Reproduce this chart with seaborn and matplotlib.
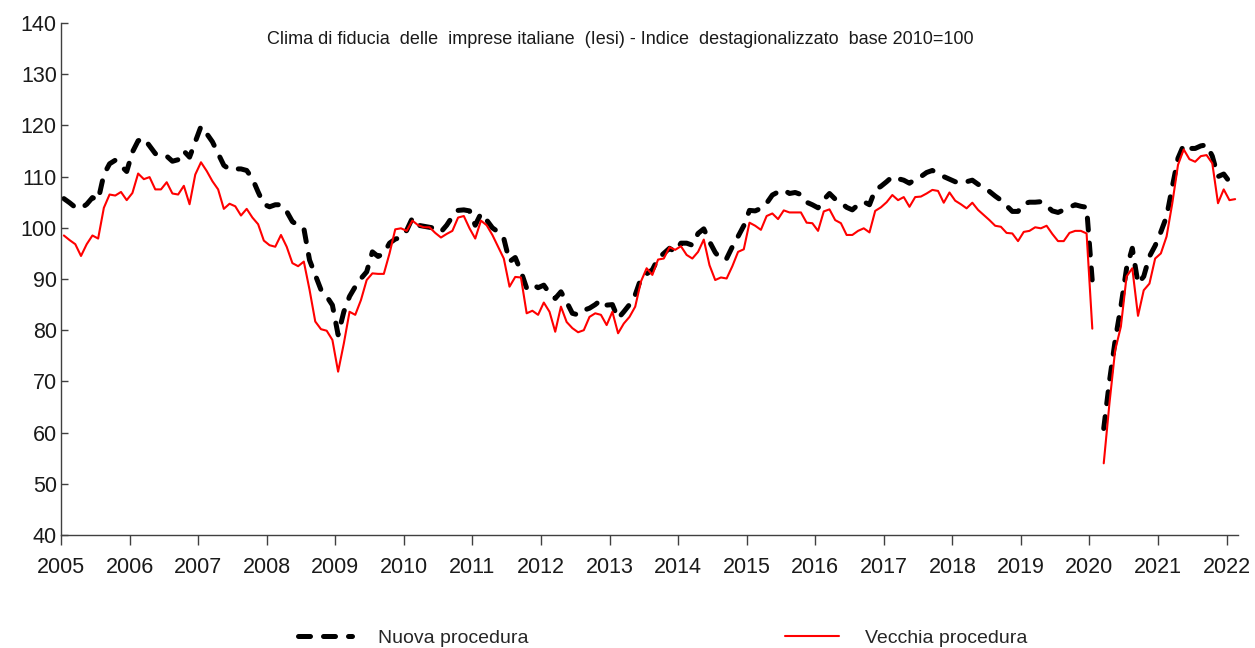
import numpy as np
import pandas as pd
import matplotlib
matplotlib.use("Agg")
import matplotlib.pyplot as plt
from matplotlib.lines import Line2D
import seaborn as sns

# Monthly index, Jan 2005 -> Feb 2022 (one month missing in 2020)
start = "2005-01"
n_months = 206

# Nuova procedura (black dashed)
nuova = [105.7, 104.9, 104.0, 103.8, 104.6, 105.9, 105.4, 110.4, 112.5, 113.2, 112.1, 111.0,
         114.8, 117.0, 117.5, 116.0, 114.5, 114.0, 114.0, 113.0, 113.3, 115.0, 113.8, 116.8,
         119.8, 118.4, 116.8, 114.5, 112.2, 111.4, 111.5, 111.5, 111.2, 109.6, 107.0, 104.6,
         104.1, 104.5, 104.5, 103.2, 101.2, 100.5, 99.9, 93.7, 90.8, 87.9, 86.6, 84.9,
         79.1, 83.6, 86.6, 88.5, 90.1, 91.4, 95.3, 94.4, 95.0, 97.0, 97.8, 98.1,
         99.5, 101.9, 100.5, 100.3, 100.1, 99.9, 99.2, 100.5, 102.2, 103.4, 103.5, 103.3,
         100.5, 102.8, 101.5, 100.0, 99.2, 97.9, 93.4, 94.2, 91.5, 88.2, 89.0, 88.3,
         88.8, 87.2, 86.2, 87.5, 85.5, 83.3, 83.0, 83.9, 84.3, 85.0, 85.9, 84.9,
         85.0, 82.3, 83.6, 85.0, 86.9, 90.1, 91.0, 91.8, 94.0, 95.0, 96.0, 95.3,
         97.0, 97.0, 96.6, 98.9, 99.8, 97.3, 95.2, 93.8, 94.0, 96.3, 98.3, 100.4,
         103.4, 103.3, 103.8, 104.8, 106.4, 107.0, 107.4, 106.7, 106.9, 106.5, 105.0, 104.5,
         103.9, 105.5, 106.7, 105.6, 104.9, 104.0, 103.5, 104.5, 105.1, 104.5, 107.4, 108.1,
         109.0, 110.0, 109.6, 109.3, 108.7, 109.5, 110.0, 110.8, 111.2, 110.6, 110.0, 109.5,
         109.0, 108.7, 109.0, 109.3, 108.5, 107.8, 107.1, 106.2, 105.4, 104.3, 103.2, 103.2,
         104.7, 105.0, 105.0, 105.1, 104.3, 103.3, 103.0, 103.5, 104.0, 104.5, 104.2, 104.0,
         89.5, np.nan, 60.8, 70.0, 78.0, 84.6, 92.1, 96.0, 89.1, 90.5, 94.4, 96.5,
         99.2, 102.2, 108.0, 113.6, 116.2, 115.5, 115.5, 116.0, 116.2, 114.0, 110.0, 110.5,
         109.0, 108.4]

# Vecchia procedura (red)
vecchia = [98.5, 97.6, 96.8, 94.5, 96.8, 98.5, 97.9, 103.9, 106.5, 106.3, 107.0, 105.4,
           106.8, 110.6, 109.5, 109.9, 107.5, 107.5, 108.9, 106.7, 106.5, 108.2, 104.6, 110.4,
           112.8, 111.1, 109.1, 107.5, 103.7, 104.7, 104.2, 102.4, 103.7, 102.0, 100.7, 97.5,
           96.6, 96.3, 98.6, 96.3, 93.1, 92.5, 93.4, 87.9, 81.7, 80.2, 79.9, 78.1,
           71.9, 77.4, 83.6, 83.0, 85.9, 89.8, 91.1, 91.0, 91.0, 95.0, 99.7, 99.9,
           99.4, 101.4, 100.5, 100.1, 100.1, 99.0, 98.1, 98.8, 99.4, 102.0, 102.3, 99.9,
           97.9, 101.4, 100.5, 98.6, 96.3, 94.0, 88.5, 90.4, 90.3, 83.3, 83.8, 83.0,
           85.4, 83.6, 79.7, 84.6, 81.6, 80.4, 79.6, 80.0, 82.6, 83.3, 83.0, 81.0,
           83.6, 79.4, 81.3, 82.6, 84.6, 89.5, 92.1, 90.8, 93.8, 94.0, 96.2, 95.7,
           96.4, 94.7, 94.0, 95.3, 97.7, 92.7, 89.8, 90.3, 90.1, 92.5, 95.3, 95.8,
           101.0, 100.4, 99.6, 102.3, 102.8, 101.7, 103.4, 103.0, 103.0, 103.0, 101.0, 100.9,
           99.4, 103.2, 103.6, 101.5, 100.9, 98.6, 98.6, 99.4, 99.9, 99.1, 103.3, 104.0,
           105.0, 106.4, 105.4, 106.0, 104.1, 106.0, 106.1, 106.7, 107.4, 107.2, 104.9, 106.9,
           105.3, 104.6, 103.8, 104.9, 103.5, 102.5, 101.5, 100.4, 100.2, 99.0, 98.9, 97.4,
           99.2, 99.4, 100.1, 99.9, 100.4, 98.8, 97.4, 97.4, 99.0, 99.4, 99.4, 98.9,
           80.3, np.nan, 54.0, 65.7, 76.1, 80.7, 90.5, 92.1, 82.8, 87.8, 89.1, 94.0,
           95.0, 98.3, 104.8, 112.3, 115.3, 113.4, 112.9, 114.0, 114.2, 112.6, 104.8, 107.5,
           105.4, 105.6]

years = list(range(2005, 2023))
yticks = list(range(40, 141, 10))
title = "Clima di fiducia  delle  imprese italiane  (Iesi) - Indice  destagionalizzato  base 2010=100"
labels = ["Nuova procedura", "Vecchia procedura"]

dates = pd.date_range(start, periods=n_months, freq="MS")
xpos = dates.year + (dates.month - 0.5) / 12

df = pd.DataFrame({"x": xpos, "nuova": nuova, "vecchia": vecchia})
# segment id so the gap in 2020 is not joined
df["seg"] = (df["nuova"].isna()).cumsum()
df = df.dropna()

sns.set_style("ticks")
plt.rcParams["font.family"] = ["Liberation Sans", "DejaVu Sans"]
narrow = ["Liberation Sans Narrow", "Liberation Sans", "DejaVu Sans"]

fig = plt.figure(figsize=(12.55, 6.48), dpi=100)
ax = fig.add_axes([61 / 1255, 113 / 648, 1177 / 1255, 512 / 648])

dash = (0, (2.4, 2.6))
sns.lineplot(data=df, x="x", y="nuova", units="seg", estimator=None, ax=ax,
             color="black", linewidth=3.6, legend=False)
for ln in ax.lines:
    ln.set_linestyle(dash)
    ln.set_dash_capstyle("round")
sns.lineplot(data=df, x="x", y="vecchia", units="seg", estimator=None, ax=ax,
             color="#ff0000", linewidth=1.5, legend=False)

ax.set_xlim(2005, 2005 + n_months / 12)
ax.set_ylim(40, 140)
ax.set_xticks(years)
ax.set_yticks(yticks)
ax.set_xlabel("")
ax.set_ylabel("")
sns.despine(ax=ax)
for s in ["left", "bottom"]:
    ax.spines[s].set_color("#404040")
    ax.spines[s].set_linewidth(1.0)
ax.tick_params(axis="y", direction="in", length=5, width=1, color="#404040",
               labelsize=15.5, labelcolor="#1a1a1a", pad=3)
ax.tick_params(axis="x", direction="out", length=7, width=1, color="#404040",
               labelsize=15.5, labelcolor="#1a1a1a", pad=9)

fig.text(620 / 1255, 1 - 40 / 648, title, ha="center", va="center",
         fontsize=13, family=narrow, color="#1a1a1a")

handles = [Line2D([], [], color="black", linewidth=3.6, linestyle=dash, dash_capstyle="round"),
           Line2D([], [], color="#ff0000", linewidth=1.5)]
fig.legend(handles, labels, loc="center left", bbox_to_anchor=(298 / 1255, 10 / 648),
           ncol=2, frameon=False, borderpad=0, borderaxespad=0, handlelength=2.8,
           handletextpad=1.3, columnspacing=13.2, prop={"family": narrow, "size": 14})

fig.savefig("out.png", dpi=100)
